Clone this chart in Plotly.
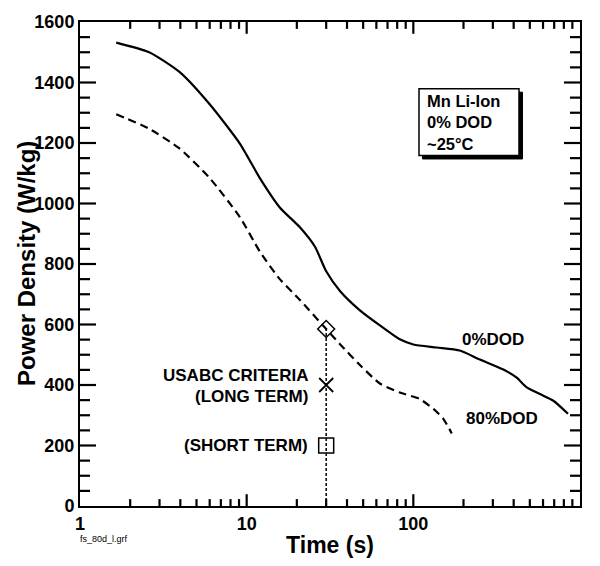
import math
import plotly.graph_objects as go

# ---- data ----
t_0dod = [1.65, 2.6, 3.95, 6.0, 9.1, 12.0, 15.8, 20.8, 25.7, 30, 36.3, 48, 63, 83, 100, 138, 190, 251, 347, 417, 479, 575, 692, 847]
p_0dod = [1532, 1500, 1435, 1328, 1198, 1084, 987, 922, 857, 776, 711, 646, 597, 551, 534, 524, 514, 484, 451, 424, 392, 370, 348, 305]

t_80dod = [1.65, 2.6, 3.95, 6.0, 9.1, 12.0, 15.8, 20.8, 30, 36.3, 48, 63, 83, 109, 132, 151, 170]
p_80dod = [1295, 1247, 1182, 1084, 955, 841, 750, 682, 585, 535, 465, 405, 375, 354, 321, 289, 240]

crit_t = 30
crit_peak = 585
crit_long = 400
crit_short = 200

x_ticks = [1, 10, 100, 1000]
x_minor = [2, 3, 4, 5, 6, 7, 8, 9, 20, 30, 40, 50, 60, 70, 80, 90, 200, 300, 400, 500, 600, 700, 800, 900]
y_ticks = list(range(0, 1601, 200))
y_minor = [v for v in range(0, 1601, 50) if v % 200]

FONT = "Arial, Liberation Sans, Helvetica, sans-serif"
X0, X1, Y0, Y1 = 1, 1000, 0, 1600
PX_PER_DEC = 500 / 3.0
PX_PER_UNIT = 493 / 1600.0

fig = go.Figure()


def xtick_segments(vals, length_px):
    dy = length_px / PX_PER_UNIT
    xs, ys = [], []
    for v in vals:
        xs += [v, v, None, v, v, None]
        ys += [Y0, Y0 + dy, None, Y1 - dy, Y1, None]
    return xs, ys


def ytick_segments(vals, length_px):
    f = 10 ** (length_px / PX_PER_DEC)
    xs, ys = [], []
    for v in vals:
        xs += [X0, X0 * f, None, X1 / f, X1, None]
        ys += [v, v, None, v, v, None]
    return xs, ys


fig.add_trace(go.Scatter(x=[crit_t, crit_t], y=[0, crit_peak], mode="lines",
                         line=dict(color="black", width=1.5, dash="3px,2px"), showlegend=False))
fig.add_trace(go.Scatter(x=t_0dod, y=p_0dod, mode="lines",
                         line=dict(color="black", width=2.2, shape="spline", smoothing=0.6), showlegend=False))
fig.add_trace(go.Scatter(x=t_80dod, y=p_80dod, mode="lines",
                         line=dict(color="black", width=2.2, dash="8px,5px", shape="spline", smoothing=0.6),
                         showlegend=False))

# inside tick marks on all four sides, built from the tick arrays
for (xs, ys) in [xtick_segments(x_ticks[1:-1], 12), xtick_segments(x_minor, 7),
                 ytick_segments(y_ticks[1:-1], 16), ytick_segments(y_minor, 10)]:
    fig.add_trace(go.Scatter(x=xs, y=ys, mode="lines", line=dict(color="black", width=2.2),
                             showlegend=False, hoverinfo="skip", connectgaps=False))

fig.add_trace(go.Scatter(x=[crit_t], y=[crit_peak], mode="markers",
                         marker=dict(symbol="diamond-open", size=13, color="black", line=dict(width=1.5)),
                         showlegend=False))
fig.add_trace(go.Scatter(x=[crit_t], y=[crit_long], mode="markers",
                         marker=dict(symbol="x-thin-open", size=14, color="black", line=dict(width=1.8)),
                         showlegend=False))
fig.add_trace(go.Scatter(x=[crit_t], y=[crit_short], mode="markers",
                         marker=dict(symbol="square-open", size=15, color="black", line=dict(width=1.5)),
                         showlegend=False))


def add_text(xv, yv, txt, xanchor="right", yshift=0, xshift=0, size=17):
    fig.add_annotation(x=xv, y=yv, xref="x", yref="y", text=txt, showarrow=False,
                       xanchor=xanchor, yanchor="middle", yshift=yshift, xshift=xshift,
                       font=dict(family=FONT, size=size, color="black"))


lx = math.log10(crit_t)
add_text(lx, crit_long, "<b>USABC CRITERIA</b>", yshift=10, xshift=-16)
add_text(lx, crit_long, "<b>(LONG TERM)</b>", yshift=-11, xshift=-16)
add_text(lx, crit_short, "<b>(SHORT TERM)</b>", xshift=-16)
add_text(math.log10(300), 550, "<b>0%DOD</b>", xanchor="center")
add_text(math.log10(340), 290, "<b>80%DOD</b>", xanchor="center")

# info box with drop shadow
bx0, bx1, by0, by1 = 0.678, 0.878, 0.724, 0.862
fig.add_shape(type="rect", xref="paper", yref="paper", x0=bx0 + 0.007, x1=bx1 + 0.007,
              y0=by0 - 0.007, y1=by1 - 0.007, fillcolor="black", line=dict(color="black", width=1))
fig.add_shape(type="rect", xref="paper", yref="paper", x0=bx0, x1=bx1, y0=by0, y1=by1,
              fillcolor="white", line=dict(color="black", width=1.5))
fig.add_annotation(x=bx0 + 0.012, y=(by0 + by1) / 2, xref="paper", yref="paper",
                   text="<b>Mn Li-Ion<br>0% DOD<br>~25°C</b>", showarrow=False,
                   xanchor="left", yanchor="middle", align="left",
                   font=dict(family=FONT, size=16.5, color="black"))

fig.add_annotation(x=-2 / 500, y=-26 / 493, xref="paper", yref="paper", text="fs_80d_l.grf",
                   showarrow=False, xanchor="left", yanchor="top",
                   font=dict(family=FONT, size=9, color="black"))

fig.add_annotation(x=-54 / 500, y=0.5, xref="paper", yref="paper", text="<b>Power Density (W/kg)</b>",
                   textangle=-90, showarrow=False, xanchor="center", yanchor="middle",
                   font=dict(family=FONT, size=24, color="black"))

tickfont = dict(family=FONT, size=18, color="black")
fig.update_layout(
    xaxis=dict(type="log", range=[0, 3], tickmode="array", tickvals=x_ticks,
               ticktext=[f"<b>{v}</b>" for v in x_ticks], ticks="",
               showline=True, linecolor="black", linewidth=2, mirror=True,
               showgrid=False, zeroline=False, tickfont=tickfont,
               title=dict(text="<b>Time (s)</b>", font=dict(family=FONT, size=23, color="black"), standoff=4)),
    yaxis=dict(range=[0, 1600], tickmode="array", tickvals=y_ticks,
               ticktext=[f"<b>{v}</b>" for v in y_ticks], ticks="",
               showline=True, linecolor="black", linewidth=2, mirror=True,
               showgrid=False, zeroline=False, tickfont=tickfont),
    width=600, height=566, margin=dict(l=80, r=20, t=16, b=57),
    plot_bgcolor="white", paper_bgcolor="white",
)

fig.write_html("out.html")
